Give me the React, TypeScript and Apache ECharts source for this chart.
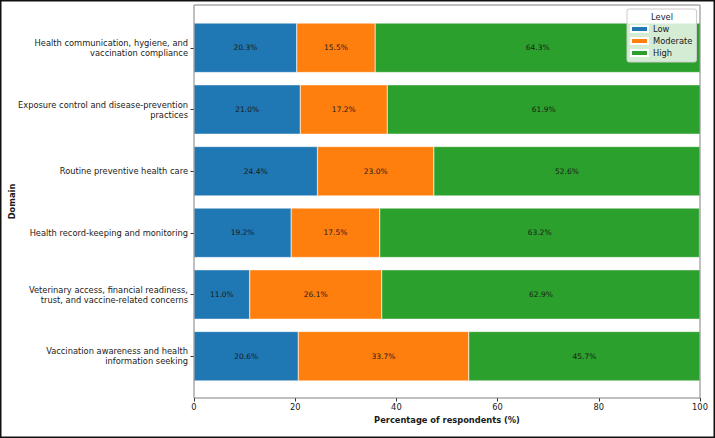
import React, { useEffect, useRef } from "react";
import * as echarts from "echarts";

const categories = [
  "Health communication, hygiene, and\nvaccination compliance",
  "Exposure control and disease-prevention\npractices",
  "Routine preventive health care",
  "Health record-keeping and monitoring",
  "Veterinary access, financial readiness,\ntrust, and vaccine-related concerns",
  "Vaccination awareness and health\ninformation seeking",
];
const lowValues = [20.3, 21.0, 24.4, 19.2, 11.0, 20.6];
const moderateValues = [15.5, 17.2, 23.0, 17.5, 26.1, 33.7];
const highValues = [64.3, 61.9, 52.6, 63.2, 62.9, 45.7];
const seriesNames = ["Low", "Moderate", "High"];
const seriesColors = ["#1f77b4", "#ff7f0e", "#2ca02c"];
const xTitle = "Percentage of respondents (%)";
const yTitle = "Domain";
const legendTitle = "Level";

const FONT = "DejaVu Sans";
const TXT = "#1a1a1a";

export default function App() {
  const ref = useRef<HTMLDivElement>(null);
  useEffect(() => {
    if (!ref.current) return;
    const chart = echarts.init(ref.current, undefined, { renderer: "svg" });
    const values = [lowValues, moderateValues, highValues];
    const option: any = {
      animation: false,
      textStyle: { fontFamily: FONT },
      grid: {
        left: 194,
        right: 15,
        top: 17,
        bottom: 51,
        containLabel: false,
        outerBoundsMode: "none",
      },
      legend: {
        orient: "vertical",
        left: 627,
        top: 9,
        padding: [15, 4, 4, 3],
        itemWidth: 17,
        itemHeight: 6,
        itemGap: 2,
        icon: "rect",
        backgroundColor: "rgba(255,255,255,0.8)",
        borderColor: "#cccccc",
        borderWidth: 1,
        borderRadius: 2,
        textStyle: { fontFamily: FONT, fontSize: 8.3, color: TXT, lineHeight: 10 },
        data: seriesNames,
      },
      xAxis: {
        type: "value",
        min: 0,
        max: 100,
        interval: 20,
        offset: 11,
        splitLine: { show: false },
        axisLine: { show: false },
        axisTick: { show: true, length: 3.5, lineStyle: { color: "#333" } },
        axisLabel: { fontFamily: FONT, fontSize: 8.3, color: TXT, margin: 5 },
        name: xTitle,
        nameLocation: "middle",
        nameGap: 16,
        nameTextStyle: { fontFamily: FONT, fontSize: 8.3, fontWeight: "bold", color: TXT },
      },
      yAxis: {
        type: "category",
        inverse: true,
        data: categories,
        axisLine: { show: false },
        axisTick: { show: true, alignWithLabel: true, length: 3.5, lineStyle: { color: "#333" } },
        axisLabel: { fontFamily: FONT, fontSize: 8.3, color: TXT, margin: 6, lineHeight: 10 },
      },
      series: seriesNames.map((name, i) => ({
        name,
        type: "bar",
        stack: "total",
        barWidth: "80%",
        data: values[i],
        itemStyle: { color: seriesColors[i], borderColor: "#ffffff", borderWidth: 0.4 },
        label: {
          show: true,
          position: "inside",
          fontFamily: FONT,
          fontSize: 7.5,
          color: TXT,
          formatter: (p: any) => `${Number(p.value).toFixed(1)}%`,
        },
      })),
      graphic: [
        {
          type: "rect",
          z: 100,
          silent: true,
          shape: { x: 194, y: 5, width: 506, height: 393 },
          style: { fill: "none", stroke: "#808080", lineWidth: 1 },
        },
        {
          type: "rect",
          z: 100,
          silent: true,
          shape: { x: 0.75, y: 0.75, width: 713.5, height: 436.5 },
          style: { fill: "none", stroke: "#111", lineWidth: 1.5 },
        },
        {
          type: "text",
          z: 100,
          silent: true,
          x: 662,
          y: 17,
          style: {
            text: legendTitle,
            fontFamily: FONT,
            fontSize: 8.3,
            fill: TXT,
            align: "center",
            verticalAlign: "middle",
          },
        },
        {
          type: "text",
          z: 100,
          silent: true,
          x: 12,
          y: 201.5,
          rotation: Math.PI / 2,
          style: {
            text: yTitle,
            fontFamily: FONT,
            fontSize: 8.3,
            fontWeight: "bold",
            fill: TXT,
            align: "center",
            verticalAlign: "middle",
          },
        },
      ],
    };
    chart.setOption(option);
    return () => chart.dispose();
  }, []);
  return (
    <div
      ref={ref}
      style={{ position: "fixed", left: 0, top: 0, width: 715, height: 438, background: "#fff" }}
    />
  );
}
